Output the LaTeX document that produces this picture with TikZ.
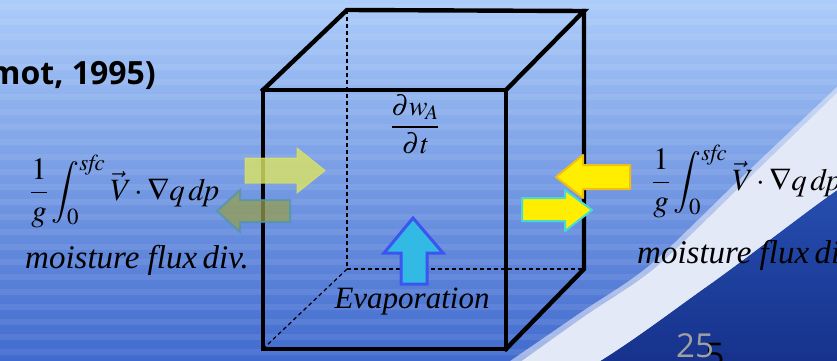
\documentclass[tikz,border=0pt]{standalone}
\usepackage{mathptmx}
\usepackage[no-math]{fontspec}
\setmainfont{Liberation Serif}
\newfontfamily\tmfont{Liberation Serif}
\newfontfamily\hdfont{Open Sans}
\usetikzlibrary{calc}
\definecolor{bgtop}{RGB}{172,204,250}
\definecolor{bgmid}{RGB}{118,158,232}
\definecolor{bgbot}{RGB}{64,106,206}
\definecolor{darkblue}{RGB}{38,78,175}
\definecolor{darkerblue}{RGB}{22,50,140}
\definecolor{swoosh}{RGB}{228,233,247}
\definecolor{ygreen}{RGB}{218,226,100}
\definecolor{olive}{RGB}{150,158,80}
\definecolor{olivebd}{RGB}{80,150,170}
\definecolor{brightyel}{RGB}{255,238,0}
\definecolor{yelbd}{RGB}{240,190,20}
\definecolor{cyanbd}{RGB}{70,220,210}
\definecolor{evfill}{RGB}{50,185,228}
\definecolor{evbd}{RGB}{60,85,240}
\definecolor{pagegray}{RGB}{160,160,160}
\newcommand{\fluxformula}{$\displaystyle\frac{1}{\mathit{g}}\int_{0}^{\mathit{sfc}}\vec{\mathit{V}}\cdot\nabla\mathit{q}\,\mathit{dp}$}
\tikzset{
  cubeedge/.style={line width=4.4pt, line join=miter, line cap=rect},
  hiddenedge/.style={line width=1.2pt, dash pattern=on 4pt off 3pt},
  mathtxt/.style={inner sep=0pt, font=\fontsize{31}{36}\selectfont},
  labtxt/.style={inner sep=0pt, font=\tmfont\itshape\fontsize{33}{38}\selectfont},
}
\begin{document}
\begin{tikzpicture}[x=1pt,y=-1pt]
\useasboundingbox (0,0) rectangle (837,361);
% background
\shade[top color=bgtop, middle color=bgmid, bottom color=bgbot] (0,0) rectangle (837,361);
\foreach \yy in {4,19,...,361} {
  \fill[white, opacity=0.08] (0,\yy) rectangle (837,\yy+6);
}
% dark region right of swoosh
\shade[top color=darkblue, bottom color=darkerblue]
  (600,361) .. controls (640,336) and (680,305) .. (713,282)
  .. controls (760,248) and (800,216) .. (837,190) -- (837,361) -- cycle;
% swoosh band
\fill[swoosh, opacity=0.6]
  plot[smooth] coordinates {(500,368) (580,313) (650,265) (740,179) (840,84)}
  -- (837,190) .. controls (800,216) and (760,248) .. (713,282)
  .. controls (680,305) and (640,336) .. (600,361) -- (500,368) -- cycle;
\fill[swoosh]
  plot[smooth] coordinates {(512,368) (585,316) (655,268) (744,183) (840,90)}
  -- (837,190) .. controls (800,216) and (760,248) .. (713,282)
  .. controls (680,305) and (640,336) .. (600,361) -- (512,368) -- cycle;
% title fragment
\node[inner sep=0pt, anchor=base east, font=\hdfont\bfseries\fontsize{32}{36}\selectfont] (cite) at (156,84) {mot, 1995)};
% page number
\node[inner sep=0pt, anchor=base west, font=\hdfont\fontsize{34}{40}\selectfont, text=black] (pgb) at (705,367) {5};
\node[inner sep=0pt, anchor=base west, font=\hdfont\fontsize{33}{40}\selectfont, text=pagegray] (pg) at (676,357) {25};
% cube corners
\coordinate (fTL) at (263,90);
\coordinate (fTR) at (506,90);
\coordinate (fBR) at (506,349);
\coordinate (fBL) at (263,349);
\coordinate (bTL) at (347,10);
\coordinate (bTR) at (584,11);
\coordinate (bBR) at (584,269);
\coordinate (bBL) at (347,269);
% hidden edges
\draw[hiddenedge] (bTL) -- (bBL);
\draw[hiddenedge] (bBL) -- (bBR);
\draw[hiddenedge] (bBL) -- (fBL);
% visible edges
\draw[cubeedge] (fTL) -- (fTR) -- (fBR) -- (fBL) -- cycle;
\draw[cubeedge] (fTL) -- (bTL) -- (bTR) -- (fTR);
\draw[cubeedge] (bTR) -- (bBR) -- (fBR);
% left arrows (semi-transparent)
\draw[fill=ygreen, draw=ygreen, line width=1pt, opacity=0.82]
  (245,158) -- (297,158) -- (297,148) -- (325,170.5) -- (297,193) -- (297,183) -- (245,183) -- cycle;
\draw[fill=olive, draw=olivebd, line width=2pt, opacity=0.75]
  (290,200) -- (240,200) -- (240,190) -- (217,211) -- (240,232) -- (240,222) -- (290,222) -- cycle;
% right arrows
\draw[fill=brightyel, draw=yelbd, line width=2pt, line join=round]
  (630,165) -- (583,165) -- (583,155) -- (556,177) -- (583,198) -- (583,189) -- (630,189) -- cycle;
\draw[fill=brightyel, draw=cyanbd, line width=2pt, line join=round]
  (522,198) -- (565,198) -- (565,190) -- (592,210) -- (565,231) -- (565,221) -- (522,221) -- cycle;
% evaporation arrow
\draw[fill=evfill, draw=evbd, line width=3pt, line join=miter]
  (401,284) -- (401,253) -- (384,253) -- (413,218) -- (443,253) -- (427,253) -- (427,284) -- cycle;
% texts
\node[mathtxt, anchor=base, font=\fontsize{28}{32}\selectfont] (dwdt) at (415,134) {$\displaystyle\frac{\partial \mathit{w}_{\!A}}{\partial \mathit{t}}$};
\node[labtxt, anchor=base, font=\tmfont\itshape\fontsize{31}{36}\selectfont] (evap) at (412,308) {Evaporation};
\node[mathtxt, anchor=base west] (fluxL) at (30,200) {\fluxformula};
\node[labtxt, anchor=base west] (labL) at (25,268) {moisture flux\,div.};
\node[mathtxt, anchor=base west] (fluxR) at (652,190) {\fluxformula};
\node[labtxt, anchor=base west] (labR) at (637,263) {moisture flux\,div.};
\end{tikzpicture}
\end{document}
